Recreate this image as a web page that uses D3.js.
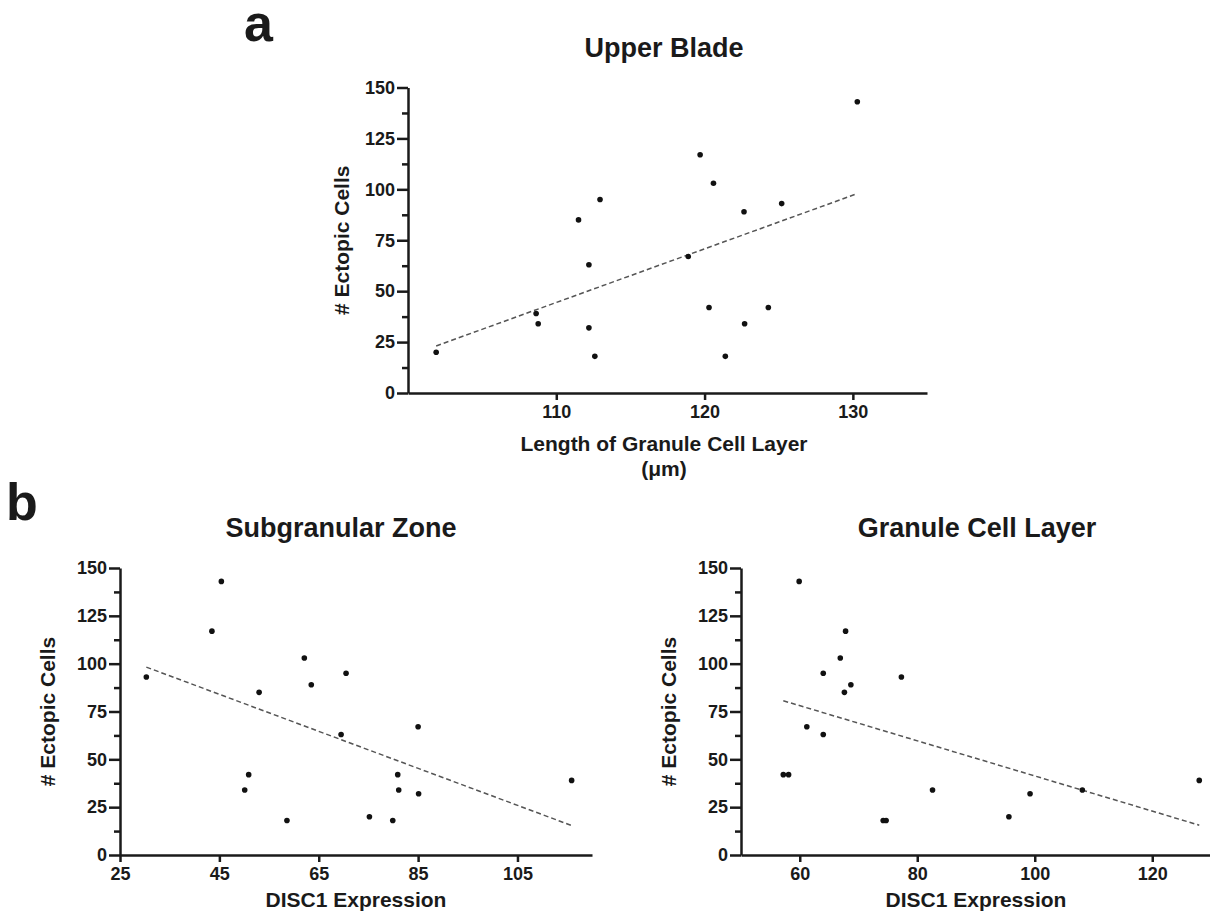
<!DOCTYPE html>
<html>
<head>
<meta charset="utf-8">
<script src="https://cdn.jsdelivr.net/npm/d3@7"></script>
<style>
  html, body { margin: 0; padding: 0; background: #fff; }
  svg { display: block; }
  text { font-family: "Liberation Sans", Arial, Helvetica, sans-serif; font-weight: bold; fill: #1a1a1a; }
</style>
</head>
<body>
<script>
// ---- Data ----
const upperBladeLength = [101.9, 108.64, 108.78, 111.5, 112.2, 112.2, 112.6, 112.95, 118.9, 119.7, 120.3, 120.6, 121.4, 122.66, 122.7, 124.3, 125.2, 130.3];
const upperBladeEctopic = [20, 39, 34, 85, 63, 32, 18, 95, 67, 117, 42, 103, 18, 89, 34, 42, 93, 143];

const sgzDisc1 = [30.3, 45.4, 43.5, 53.0, 50.9, 50.1, 58.6, 62.1, 63.5, 69.5, 70.5, 75.2, 79.9, 80.9, 81.1, 85.0, 85.1, 115.9];
const sgzEctopic = [93, 143, 117, 85, 42, 34, 18, 103, 89, 63, 95, 20, 18, 42, 34, 67, 32, 39];

const gclDisc1 = [57.2, 58.1, 59.9, 61.2, 64.0, 64.0, 66.9, 67.6, 67.8, 68.7, 74.2, 74.7, 77.3, 82.6, 95.6, 99.2, 108.1, 128.0];
const gclEctopic = [42, 42, 143, 67, 95, 63, 103, 85, 117, 89, 18, 18, 93, 34, 20, 32, 34, 39];

const yTicks = [0, 25, 50, 75, 100, 125, 150];
const yMinorTicks = [12.5, 37.5, 62.5, 87.5, 112.5, 137.5];
const upperXTicks = [110, 120, 130];
const sgzXTicks = [25, 45, 65, 85, 105];
const gclXTicks = [60, 80, 100, 120];

// ---- Drawing ----
const W = 1210, H = 912;
const svg = d3.select("body").append("svg").attr("width", W).attr("height", H);
const INK = "#1a1a1a";

function fit(xs, ys) {
  const n = xs.length;
  const mx = d3.mean(xs), my = d3.mean(ys);
  let sxy = 0, sxx = 0;
  for (let i = 0; i < n; i++) { sxy += (xs[i] - mx) * (ys[i] - my); sxx += (xs[i] - mx) ** 2; }
  const b = sxy / sxx;
  return { a: my - b * mx, b };
}

function panel(cfg) {
  const x = d3.scaleLinear().domain(cfg.xDomain).range(cfg.xRange);
  const y = d3.scaleLinear().domain([0, 150]).range(cfg.yRange);
  const g = svg.append("g");

  const yAx = g.append("g").attr("transform", `translate(${cfg.xRange[0]},0)`)
    .call(d3.axisLeft(y).tickValues(yTicks).tickSize(11).tickSizeOuter(0).tickPadding(2));
  const yMin = g.append("g").attr("transform", `translate(${cfg.xRange[0]},0)`)
    .call(d3.axisLeft(y).tickValues(yMinorTicks).tickSize(6).tickSizeOuter(0).tickFormat(""));
  yMin.select(".domain").remove();
  const xAx = g.append("g").attr("transform", `translate(0,${cfg.yRange[0]})`)
    .call(d3.axisBottom(x).tickValues(cfg.xTicks).tickSize(7).tickSizeOuter(0).tickPadding(5));

  [yAx, yMin, xAx].forEach(ax => {
    ax.selectAll("path, line").attr("stroke", INK).attr("stroke-width", 2.5);
    ax.selectAll("text").attr("font-size", 18).attr("fill", INK)
      .attr("font-family", "Liberation Sans, Arial, sans-serif").attr("font-weight", "bold");
  });

  const f = fit(cfg.xs, cfg.ys);
  const ex = d3.extent(cfg.xs);
  const lineData = ex.map(v => [v, f.a + f.b * v]);
  g.append("path").datum(lineData)
    .attr("d", d3.line().x(d => x(d[0])).y(d => y(d[1])))
    .attr("fill", "none").attr("stroke", "#555").attr("stroke-width", 1.5)
    .attr("stroke-dasharray", "5,3");

  g.selectAll("circle.pt").data(cfg.xs.map((v, i) => [v, cfg.ys[i]])).enter()
    .append("circle").attr("class", "pt")
    .attr("cx", d => x(d[0])).attr("cy", d => y(d[1])).attr("r", 2.8).attr("fill", "#111");

  svg.append("text").attr("x", cfg.titleX).attr("y", cfg.titleY).attr("text-anchor", "middle")
    .attr("font-size", 27).text(cfg.title);
  svg.append("text").attr("transform", `translate(${cfg.yLabelX},${(cfg.yRange[0] + cfg.yRange[1]) / 2}) rotate(-90)`)
    .attr("text-anchor", "middle").attr("font-size", 21).text("# Ectopic Cells");
  cfg.xLabel.forEach((t, i) => {
    svg.append("text").attr("x", cfg.xLabelX).attr("y", cfg.xLabelY + i * 25)
      .attr("text-anchor", "middle").attr("font-size", 21).text(t);
  });
}

panel({
  xs: upperBladeLength, ys: upperBladeEctopic,
  xDomain: [100, 135], xRange: [408, 927], yRange: [393, 87.5], xTicks: upperXTicks,
  title: "Upper Blade", titleX: 664, titleY: 57,
  yLabelX: 349, xLabel: ["Length of Granule Cell Layer", "(\u03BCm)"], xLabelX: 664, xLabelY: 451
});
panel({
  xs: sgzDisc1, ys: sgzEctopic,
  xDomain: [25, 120], xRange: [120, 592], yRange: [855, 568], xTicks: sgzXTicks,
  title: "Subgranular Zone", titleX: 341, titleY: 537,
  yLabelX: 55, xLabel: ["DISC1 Expression"], xLabelX: 356, xLabelY: 907
});
panel({
  xs: gclDisc1, ys: gclEctopic,
  xDomain: [50, 130], xRange: [741, 1211], yRange: [855, 568], xTicks: gclXTicks,
  title: "Granule Cell Layer", titleX: 977, titleY: 537,
  yLabelX: 676, xLabel: ["DISC1 Expression"], xLabelX: 976, xLabelY: 907
});

svg.append("text").attr("x", 244).attr("y", 41).attr("font-size", 52).text("a");
svg.append("text").attr("x", 6).attr("y", 520).attr("font-size", 52).text("b");
</script>
</body>
</html>
